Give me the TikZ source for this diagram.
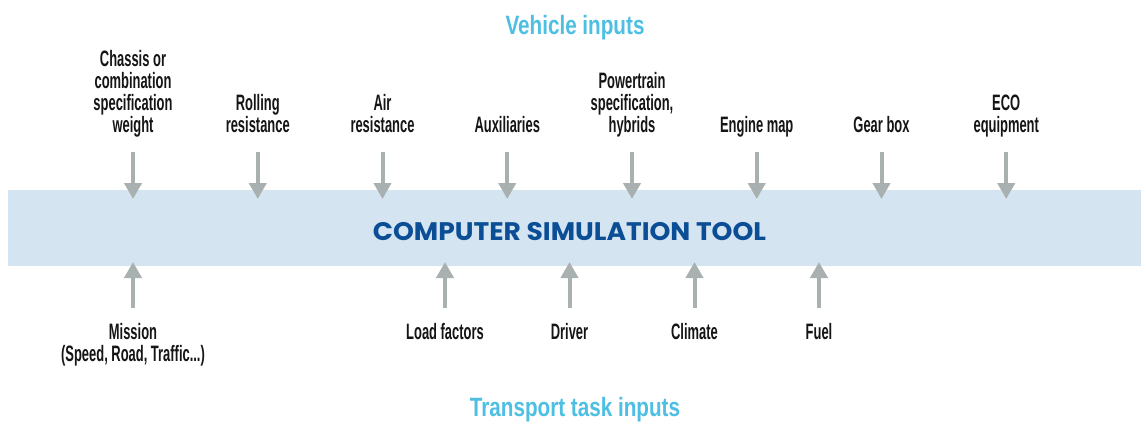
\documentclass[tikz,border=0pt]{standalone}
\usepackage{fontspec}
\usetikzlibrary{arrows.meta}
% condensed grotesque for the input labels and the two headings
\newfontfamily\condfont{Liberation Sans}[FakeStretch=0.58]
\newfontfamily\headfont{Liberation Sans}[FakeStretch=0.78]
\newfontfamily\toolfont{Poppins}[FakeStretch=1.045]
\definecolor{bandblue}{HTML}{D4E5F1}
\definecolor{arrowgray}{HTML}{A9B0B0}
\definecolor{headblue}{HTML}{4DBFE3}
\definecolor{toolblue}{HTML}{0B4E96}
\definecolor{labelink}{HTML}{151515}
\begin{document}
\begin{tikzpicture}[x=1pt,y=-1pt,
  lbl/.style={font=\condfont\bfseries\fontsize{22.3}{22}\selectfont, text=labelink,
              align=center, inner sep=0pt},
  toplbl/.style={lbl, anchor=south, text depth=0pt},
  botlbl/.style={lbl, anchor=north},
  heading/.style={font=\headfont\bfseries\fontsize{26.5}{30}\selectfont, text=headblue,
                  inner sep=0pt, anchor=base},
  feed/.style={draw=arrowgray, line width=4pt, -{Triangle[width=17pt,length=16pt]}},
  band/.style={fill=bandblue, draw=none, inner sep=0pt, anchor=north west,
               minimum width=1133pt, minimum height=76pt}]

\fill[white] (0,0) rectangle (1141,421);
\useasboundingbox (0,0) rectangle (1141,421);

% central band and its title
\node[band] (tool) at (8,190) {};
\node[font=\toolfont\bfseries\fontsize{25.4}{28}\selectfont, text=toolblue,
      inner sep=0pt, anchor=base] (toolname) at (569.5,240) {COMPUTER SIMULATION TOOL};

% headings
\node[heading] (vehicle) at (575,34) {Vehicle inputs};
\node[heading] (transport) at (575,416) {Transport task inputs};

% vehicle inputs (above the band)
\node[toplbl] (chassis) at (133,132.5) {Chassis or\\combination\\specification\\weight};
\node[toplbl] (rolling) at (257.75,132.5) {Rolling\\resistance};
\node[toplbl] (air) at (382.5,132.5) {Air\\resistance};
\node[toplbl] (aux) at (507.25,132.5) {Auxiliaries};
\node[toplbl] (power) at (632,132.5) {Powertrain\\specification,\\hybrids};
\node[toplbl] (engine) at (756.75,132.5) {Engine map};
\node[toplbl] (gear) at (881.5,132.5) {Gear box};
\node[toplbl] (eco) at (1006.25,132.5) {ECO\\equipment};

% transport task inputs (below the band)
\node[botlbl] (mission) at (133,323) {Mission\\(Speed, Road, Traffic...)};
\node[botlbl] (load) at (445,323) {Load factors};
\node[botlbl] (driver) at (569.5,323) {Driver};
\node[botlbl] (climate) at (694.5,323) {Climate};
\node[botlbl] (fuel) at (819,323) {Fuel};

% arrow ends: tails under the labels, tips inside the band
\foreach \n/\x in {chassis/133, rolling/257.75, air/382.5, aux/507.25,
                   power/632, engine/756.75, gear/881.5, eco/1006.25} {
  \coordinate (\n-tail) at (\x,152);
  \coordinate (\n-tip) at (\x,199);
  \draw[feed] (\n-tail) -- (\n-tip);
}
\foreach \n/\x in {mission/133, load/445, driver/569.5, climate/694.5, fuel/819} {
  \coordinate (\n-tail) at (\x,308);
  \coordinate (\n-tip) at (\x,262);
  \draw[feed] (\n-tail) -- (\n-tip);
}
\end{tikzpicture}
\end{document}
